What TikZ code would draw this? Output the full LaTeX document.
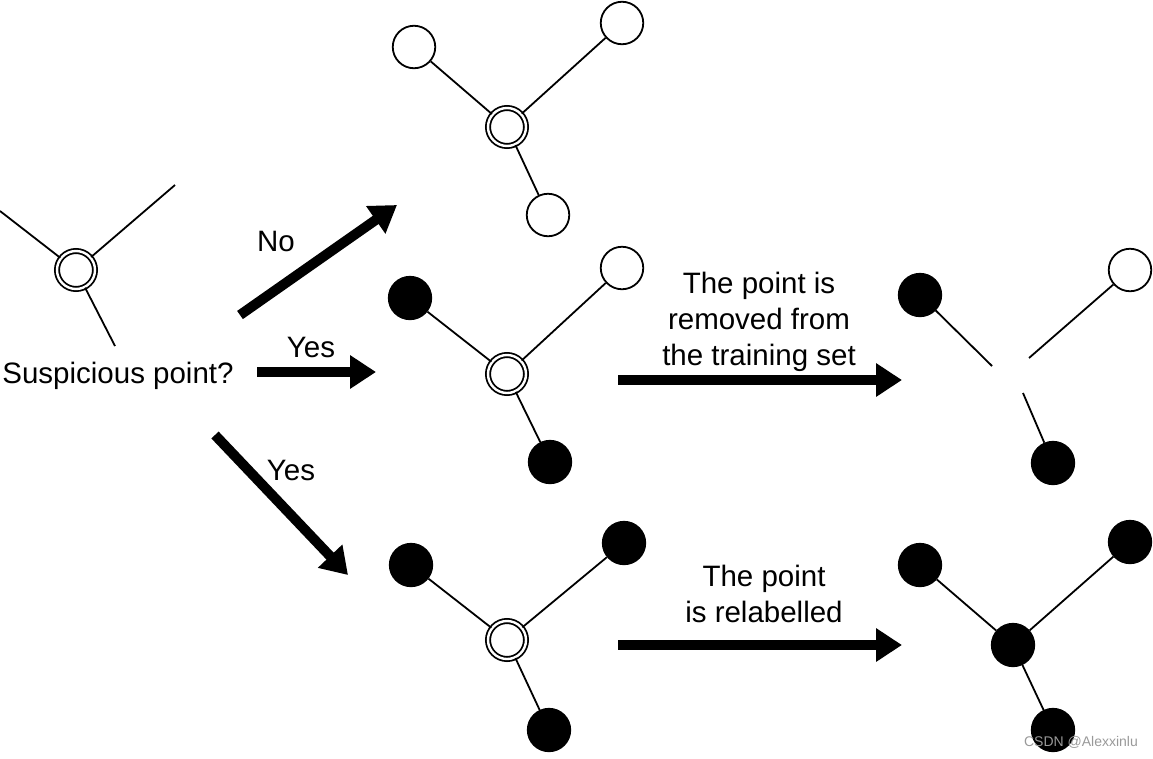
\documentclass[tikz,border=0pt]{standalone}
\usepackage{fontspec}
\setmainfont{Liberation Sans}
\usetikzlibrary{arrows.meta, positioning}

\begin{document}
\begin{tikzpicture}[x=1pt,y=-1pt,
    txt/.style={font=\fontsize{29.5}{36}\selectfont, align=center, inner sep=0pt},
    bigarrow/.style={line width=10pt, -{Triangle[length=26pt,width=32pt]}}]
  \useasboundingbox (0,0) rectangle (1153,758);
  \begin{scope}[every node/.style={circle,draw,line width=1.8pt,minimum size=42.5pt,inner sep=0pt}]
    % start
    \node[double, double distance=2.4pt, minimum size=38pt] (s) at (76,270) {};
    % answer no
    \node[double, double distance=2.4pt, minimum size=38pt] (n) at (507,127) {};
    \node (n1) at (414,47) {};
    \node (n2) at (622,23) {};
    \node (n3) at (548,215) {};
    % answer yes, upper
    \node[double, double distance=2.4pt, minimum size=38pt] (y) at (507,374) {};
    \node[fill=black] (y1) at (410,298) {};
    \node (y2) at (622,268) {};
    \node[fill=black] (y3) at (550,462) {};
    % removed
    \node[fill=black] (r1) at (920,295) {};
    \node (r2) at (1130,270) {};
    \node[fill=black] (r3) at (1053,463) {};
    % answer yes, lower
    \node[double, double distance=2.4pt, minimum size=38pt] (z) at (507,640) {};
    \node[fill=black] (z1) at (411,565) {};
    \node[fill=black] (z2) at (624,543) {};
    \node[fill=black] (z3) at (549,730) {};
    % relabelled
    \node[fill=black] (w) at (1013,645) {};
    \node[fill=black] (w1) at (920,565) {};
    \node[fill=black] (w2) at (1130,542) {};
    \node[fill=black] (w3) at (1053,730) {};
  \end{scope}
  \coordinate (s1) at (0,211);
  \coordinate (s2) at (175,185);
  \coordinate (s3) at (115,346);
  \coordinate (ra) at (992,366);
  \coordinate (rb) at (1029,358);
  \coordinate (rc) at (1023,393);
  \begin{scope}[every edge/.style={draw=black,line width=1.8pt}]
    \path (s) edge (s1) edge (s2) edge (s3);
    \path (n) edge (n1) edge (n2) edge (n3);
    \path (y) edge (y1) edge (y2) edge (y3);
    \path (z) edge (z1) edge (z2) edge (z3);
    \path (w) edge (w1) edge (w2) edge (w3);
    \path (r1) edge (ra);
    \path (r2) edge (rb);
    \path (rc) edge (r3);
  \end{scope}
  % labels
  \node[txt, anchor=base] (q) at (118,383) {Suspicious point?};
  \node[txt, anchor=base] (no) at (276,251) {No};
  \node[txt, anchor=base] (yes1) at (311,357) {Yes};
  \node[txt, anchor=base] (yes2) at (291,480) {Yes};
  \node[txt] (rm) at (759,322) {The point is\\removed from\\the training set};
  \node[txt] (rl) at (764,594) {The point\\is relabelled};
  \node[font=\fontsize{14}{16}\selectfont, text=black!40, inner sep=0pt] (wm) at (1081,742) {CSDN @Alexxinlu};
  % arrows
  \coordinate (a0) at (240,315);
  \coordinate (a1) at (397,205);
  \coordinate (b0) at (257,372);
  \coordinate (b1) at (376,372);
  \coordinate (c0) at (215,435);
  \coordinate (c1) at (348,575);
  \coordinate (d0) at (618,380);
  \coordinate (d1) at (902,380);
  \coordinate (e0) at (618,645);
  \coordinate (e1) at (902,645);
  \draw[bigarrow] (a0) -- (a1);
  \draw[bigarrow] (b0) -- (b1);
  \draw[bigarrow] (c0) -- (c1);
  \draw[bigarrow] (d0) -- (d1);
  \draw[bigarrow] (e0) -- (e1);
\end{tikzpicture}
\end{document}
